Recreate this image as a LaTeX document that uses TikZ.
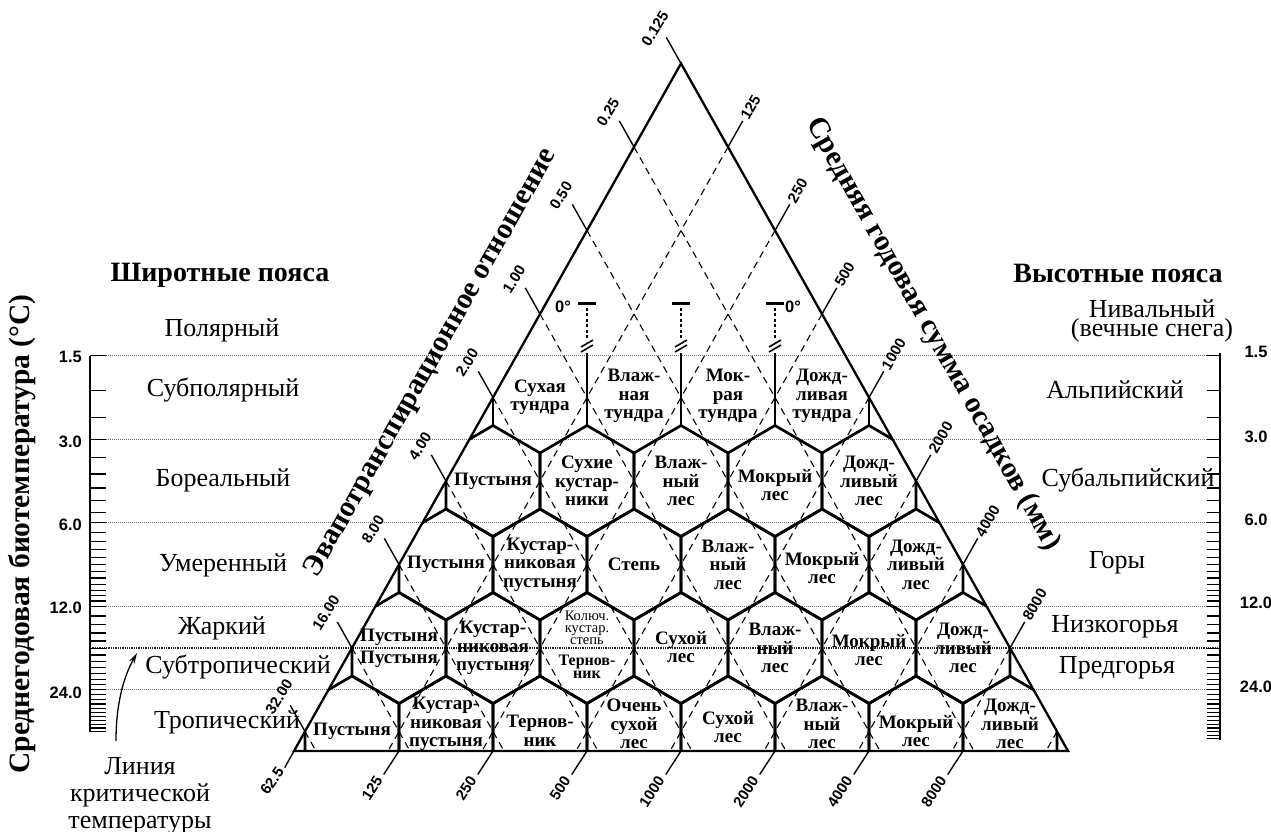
\documentclass[tikz,border=0pt]{standalone}
\usepackage{fontspec}
\setmainfont{Liberation Serif}
\newfontfamily\numfont{Liberation Sans}
\usetikzlibrary{arrows.meta}
\begin{document}
\begin{tikzpicture}[x=1pt,y=-1pt,
  hexedge/.style={line width=2.7pt,line join=round},
  triside/.style={line width=2.3pt,line join=miter},
  latdash/.style={line width=1.1pt,dash pattern=on 7pt off 5pt},
  beltline/.style={line width=0.9pt,black!55,dash pattern=on 1pt off 1pt},
  critline/.style={line width=2.2pt,black!85,dash pattern=on 1.3pt off 1pt},
  ticksty/.style={line width=1.4pt},
  combsty/.style={line width=1.3pt},
  hexlab/.style={font=\fontsize{19}{18.5}\selectfont\bfseries,align=center,inner sep=0pt},
  hexsmall/.style={font=\fontsize{14.5}{12}\selectfont,align=center,inner sep=0pt},
  hexmid/.style={font=\fontsize{16}{12.5}\selectfont\bfseries,align=center,inner sep=0pt},
  numlab/.style={font=\numfont\bfseries\fontsize{15}{15}\selectfont,inner sep=0pt},
  comblab/.style={font=\numfont\bfseries\fontsize{16.5}{16.5}\selectfont,inner sep=0pt},
  zonelab/.style={font=\fontsize{26}{19}\selectfont,inner sep=0pt,align=center},
  headlab/.style={font=\fontsize{28}{28}\selectfont\bfseries,inner sep=0pt},
  axislab/.style={font=\fontsize{29.5}{29.5}\selectfont\bfseries,inner sep=0pt},
  tmark/.style={line width=2.6pt},
  tdots/.style={line width=2.8pt,dash pattern=on 3pt off 2.5pt},
]
\useasboundingbox (0,0) rectangle (1271,832);
\fill[white] (0,0) rectangle (1271,832);

% corners of the triangle
\coordinate (A) at (681,63.5);
\coordinate (BL) at (294,751);
\coordinate (BR) at (1068,751);

% belt lines
\foreach \yy in {355.75,439.25,522.75,606.25,689.75} \draw[beltline] (90,\yy) -- (1220,\yy);
\draw[critline] (90,648) -- (1220,648);

% temperature combs
\draw[combsty] (90,355.75) -- (90,732);
\draw[combsty] (1220,353) -- (1220,740);
\foreach \t in {1.5,2,2.5,3,3.5,4,4.5,5,5.5,6,6.5,7,7.5,8,8.5,9,9.5,10,10.5,11,11.5,12,13,14,15,16,17,18,19,20,21,22,23,24,25,26,27,28,29,30,31,32,33,34} {
  \pgfmathsetmacro\yy{355.75+120.465*ln(\t/1.5)}
  \draw[combsty] (90,\yy) -- (106,\yy);
  \draw[combsty] (1220,\yy) -- (1207,\yy);
}
\foreach \t in {35,36} {
  \pgfmathsetmacro\yy{355.75+120.465*ln(\t/1.5)}
  \draw[combsty] (1220,\yy) -- (1207,\yy);
}
\foreach \yy/\lab [count=\i] in {357/1.5,442/3.0,525/6.0,608/12.0,693/24.0} {
  \node[comblab,anchor=east] (cl\i) at (82,\yy) {\lab};
}
\foreach \yy/\lab [count=\i] in {352/1.5,437/3.0,520/6.0,603/12.0,687/24.0} {
  \node[comblab] (cr\i) at (1256,\yy) {\lab};
}

% lattice inside the triangle
\begin{scope}
\clip (A) -- (BL) -- (BR) -- cycle;
\foreach \m in {1,...,8} {
  \draw[latdash] (681-47*\m, 63.5+83.5*\m) -- ++(470,835);
  \draw[latdash] (681+47*\m, 63.5+83.5*\m) -- ++(-470,835);
}
\foreach \r in {1,...,4} {
  \pgfmathtruncatemacro\n{9-\r}
  \foreach \k in {1,...,\n} {
    \pgfmathsetmacro\cx{681+(\k-(10-\r)/2)*94}
    \pgfmathsetmacro\cy{731.5-83.5*(\r-1)}
    \draw[hexedge] (\cx-47,\cy-28) -- (\cx,\cy-55.5) -- (\cx+47,\cy-28) -- (\cx+47,\cy+28) -- (\cx,\cy+55.5) -- (\cx-47,\cy+28) -- cycle;
  }
}
\foreach \xx in {493,869} \draw[hexedge] (\xx,369.5) -- (\xx,425.5);
\end{scope}

% tundra walls with 0-degree marks
\foreach \xx in {587,681,775} {
  \draw[hexedge] (\xx,425.5) -- (\xx,353);
  \draw[line width=1.6pt] (\xx-6,352) -- (\xx+6,345) (\xx-6,347) -- (\xx+6,340);
  \draw[tdots] (\xx,338) -- (\xx,307);
  \draw[tmark] (\xx-9,303.5) -- (\xx+9,303.5);
}
\node[comblab] (z1) at (563,307) {0°};
\node[comblab] (z2) at (793,307) {0°};

% triangle
\draw[triside] (A) -- (BL) -- (BR) -- cycle;

% left side ticks
\foreach \m/\lab in {0/0.125,1/0.25,2/0.50,3/1.00,4/2.00,5/4.00,6/8.00,7/16.00,8/32.00} {
  \draw[ticksty] (681-47*\m, 63.5+83.5*\m) -- ++(-14.7,-26.1);
  \node[numlab,rotate=58] (lt\m) at (681-47*\m-26, 63.5+83.5*\m-35) {\lab};
}
% right side ticks
\foreach \m/\lab in {1/125,2/250,3/500,4/1000,5/2000,6/4000,7/8000} {
  \draw[ticksty] (681+47*\m, 63.5+83.5*\m) -- ++(14.7,-26.1);
  \node[numlab,rotate=60,anchor=west] (rt\m) at (681+47*\m+16.2, 63.5+83.5*\m-28.8) {\lab};
}
% bottom ticks
\draw[ticksty] (BL) -- ++(-9.3,16.6);
\node[numlab,rotate=55] (bt0) at (272,781) {62.5};
\foreach \j/\lab in {0/125,1/250,2/500,3/1000,4/2000,5/4000,6/8000} {
  \draw[ticksty] (399+94*\j,751) -- ++(-15.3,23.5);
  \node[numlab,rotate=57,anchor=east] (bt\lab) at (399+94*\j-20, 751+27) {\lab};
}

% hexagon labels
\node[hexlab] (t51) at (540,397.5) {Сухая\\тундра};
\node[hexlab] (t52) at (634,396) {Влаж-\\ная\\тундра};
\node[hexlab] (t53) at (728,396) {Мок-\\рая\\тундра};
\node[hexlab] (t54) at (822,396) {Дожд-\\ливая\\тундра};

\node[hexlab] (t41) at (493,481) {Пустыня};
\node[hexlab] (t42) at (587,481) {Сухие\\кустар-\\ники};
\node[hexlab] (t43) at (681,481) {Влаж-\\ный\\лес};
\node[hexlab] (t44) at (775,485) {Мокрый\\лес};
\node[hexlab] (t45) at (869,481) {Дожд-\\ливый\\лес};

\node[hexlab] (t31) at (446,564.5) {Пустыня};
\node[hexlab] (t32) at (540,564.5) {Кустар-\\никовая\\пустыня};
\node[hexlab] (t33) at (634,564.5) {Степь};
\node[hexlab] (t34) at (728,564.5) {Влаж-\\ный\\лес};
\node[hexlab] (t35) at (822,568) {Мокрый\\лес};
\node[hexlab] (t36) at (916,564.5) {Дожд-\\ливый\\лес};

\node[hexlab] (t21a) at (399,637) {Пустыня};
\node[hexlab] (t21b) at (399,659) {Пустыня};
\node[hexlab] (t22) at (493,648) {Кустар-\\никовая\\пустыня};
\node[hexsmall] (t23a) at (587,628) {Колюч.\\кустар.\\степь};
\node[hexmid] (t23b) at (587,667) {Тернов-\\ник};
\node[hexlab] (t24) at (681,647) {Сухой\\лес};
\node[hexlab] (t25) at (775,648) {Влаж-\\ный\\лес};
\node[hexlab] (t26) at (869,650) {Мокрый\\лес};
\node[hexlab] (t27) at (963,648) {Дожд-\\ливый\\лес};

\node[hexlab] (t11) at (352,731) {Пустыня};
\node[hexlab] (t12) at (446,724) {Кустар-\\никовая\\пустыня};
\node[hexlab] (t13) at (540,731) {Тернов-\\ник};
\node[hexlab] (t14) at (634,724) {Очень\\сухой\\лес};
\node[hexlab] (t15) at (728,727) {Сухой\\лес};
\node[hexlab] (t16) at (822,724) {Влаж-\\ный\\лес};
\node[hexlab] (t17) at (916,731) {Мокрый\\лес};
\node[hexlab] (t18) at (1010,724) {Дожд-\\ливый\\лес};

% belt names, left
\node[headlab] (hl) at (220,275) {Широтные пояса};
\node[zonelab] (l1) at (222,330) {Полярный};
\node[zonelab] (l2) at (223,390) {Субполярный};
\node[zonelab] (l3) at (223,480) {Бореальный};
\node[zonelab] (l4) at (223,565) {Умеренный};
\node[zonelab] (l5) at (222,628) {Жаркий};
\node[zonelab] (l6) at (238,667) {Субтропический};
\node[zonelab] (l7) at (227,722) {Тропический};
\node[zonelab,font=\fontsize{26}{27}\selectfont] (crit) at (140,796) {Линия\\критической\\температуры};

% belt names, right
\node[headlab] (hr) at (1118,273) {Высотные пояса};
\node[zonelab] (r1) at (1152,321) {Нивальный\\(вечные снега)};
\node[zonelab] (r2) at (1115,390) {Альпийский};
\node[zonelab] (r3) at (1128,480) {Субальпийский};
\node[zonelab] (r4) at (1117,563) {Горы};
\node[zonelab] (r5) at (1115,627) {Низкогорья};
\node[zonelab] (r6) at (1117,668) {Предгорья};

% axis titles
\node[axislab,rotate=90] (ax1) at (22,534) {Среднегодовая биотемпература (°C)};
\node[axislab,rotate=60.6] (ax2) at (431,363) {Эвапотранспирационное отношение};
\node[axislab,rotate=-60.6] (ax3) at (933,334) {Средняя годовая сумма осадков (мм)};

% arrow to the critical line
\coordinate (arrfrom) at (116,741);
\coordinate (arrto) at (137,653);
\draw[line width=1.3pt,-{Stealth[length=11pt,width=6pt]}] (arrfrom) .. controls (116,705) and (123,678) .. (arrto);
\end{tikzpicture}
\end{document}
